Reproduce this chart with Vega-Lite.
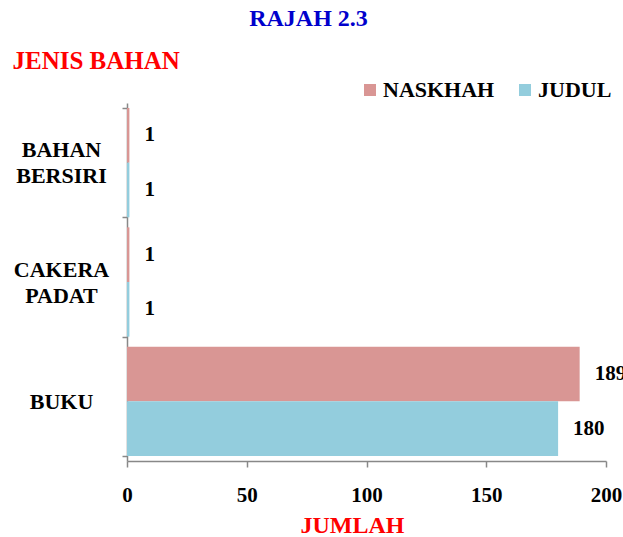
{
  "$schema": "https://vega.github.io/schema/vega-lite/v6.json",
  "width": 479,
  "height": 358,
  "autosize": {"type": "none"},
  "padding": {"left": 127, "top": 103, "right": 17, "bottom": 76},
  "background": "white",
  "config": {
    "view": {"stroke": null},
    "font": "Liberation Serif"
  },
  "title": {
    "text": "RAJAH 2.3",
    "anchor": "middle",
    "dx": -58,
    "offset": 17,
    "font": "Liberation Serif",
    "fontSize": 24,
    "fontWeight": "bold",
    "color": "#0000cc"
  },
  "data": {
    "values": [
      {"jenis": "BAHAN BERSIRI", "siri": "NASKHAH", "jumlah": 1},
      {"jenis": "BAHAN BERSIRI", "siri": "JUDUL", "jumlah": 1},
      {"jenis": "CAKERA PADAT", "siri": "NASKHAH", "jumlah": 1},
      {"jenis": "CAKERA PADAT", "siri": "JUDUL", "jumlah": 1},
      {"jenis": "BUKU", "siri": "NASKHAH", "jumlah": 189},
      {"jenis": "BUKU", "siri": "JUDUL", "jumlah": 180}
    ]
  },
  "encoding": {
    "y": {
      "field": "jenis",
      "type": "nominal",
      "sort": ["BAHAN BERSIRI", "CAKERA PADAT", "BUKU"],
      "scale": {"paddingInner": 0.084, "paddingOuter": 0.042},
      "axis": {
        "title": "JENIS BAHAN",
        "titleAngle": 0,
        "titleX": -115,
        "titleY": -35,
        "titleAlign": "left",
        "titleBaseline": "alphabetic",
        "titleColor": "#ff0000",
        "titleFont": "Liberation Serif",
        "titleFontSize": 25,
        "titleFontWeight": "bold",
        "domainColor": "#888888",
        "domainWidth": 1.5,
        "tickColor": "#888888",
        "tickWidth": 1.5,
        "tickSize": 5,
        "tickBand": "extent",
        "labelExpr": "split(datum.label, ' ')",
        "labelAlign": "center",
        "labelBaseline": "middle",
        "labelOffset": {"condition": {"test": "datum.value == 'BUKU'", "value": 0}, "value": -13},
        "labelPadding": 61,
        "labelLineHeight": 26,
        "labelFont": "Liberation Serif",
        "labelFontSize": 22,
        "labelFontWeight": "bold",
        "labelColor": "#000000"
      }
    },
    "yOffset": {
      "field": "siri",
      "type": "nominal",
      "sort": ["NASKHAH", "JUDUL"],
      "scale": {"paddingInner": 0, "paddingOuter": 0}
    }
  },
  "layer": [
    {
      "mark": {"type": "bar"},
      "encoding": {
        "x": {
          "field": "jumlah",
          "type": "quantitative",
          "scale": {"domain": [0, 200]},
          "axis": {
            "values": [0, 50, 100, 150, 200],
            "grid": false,
            "title": "JUMLAH",
            "titleX": 225,
            "titleY": 71,
            "titleBaseline": "alphabetic",
            "titleColor": "#ff0000",
            "titleFont": "Liberation Serif",
            "titleFontSize": 24,
            "titleFontWeight": "bold",
            "domainColor": "#888888",
            "domainWidth": 1.5,
            "tickColor": "#888888",
            "tickWidth": 1.5,
            "tickSize": 6,
            "labelFlush": false,
            "labelPadding": 17,
            "labelFont": "Liberation Serif",
            "labelFontSize": 21,
            "labelFontWeight": "bold",
            "labelColor": "#000000",
            "labelBaseline": "top"
          }
        },
        "color": {
          "field": "siri",
          "type": "nominal",
          "sort": ["NASKHAH", "JUDUL"],
          "scale": {"domain": ["NASKHAH", "JUDUL"], "range": ["#d99694", "#93cddd"]},
          "legend": {
            "title": null,
            "orient": "none",
            "direction": "horizontal",
            "legendX": 232,
            "legendY": -24,
            "symbolType": "square",
            "symbolSize": 144,
            "symbolStrokeWidth": 0,
            "labelOffset": 2,
            "columnPadding": 19,
            "labelFont": "Liberation Serif",
            "labelFontSize": 22,
            "labelFontWeight": "bold",
            "labelColor": "#000000"
          }
        }
      }
    },
    {
      "mark": {
        "type": "text",
        "align": "left",
        "baseline": "middle",
        "dx": 15,
        "font": "Liberation Serif",
        "fontSize": 21,
        "fontWeight": "bold",
        "color": "#000000"
      },
      "encoding": {
        "x": {"field": "jumlah", "type": "quantitative"},
        "text": {"field": "jumlah", "type": "quantitative"}
      }
    }
  ]
}
